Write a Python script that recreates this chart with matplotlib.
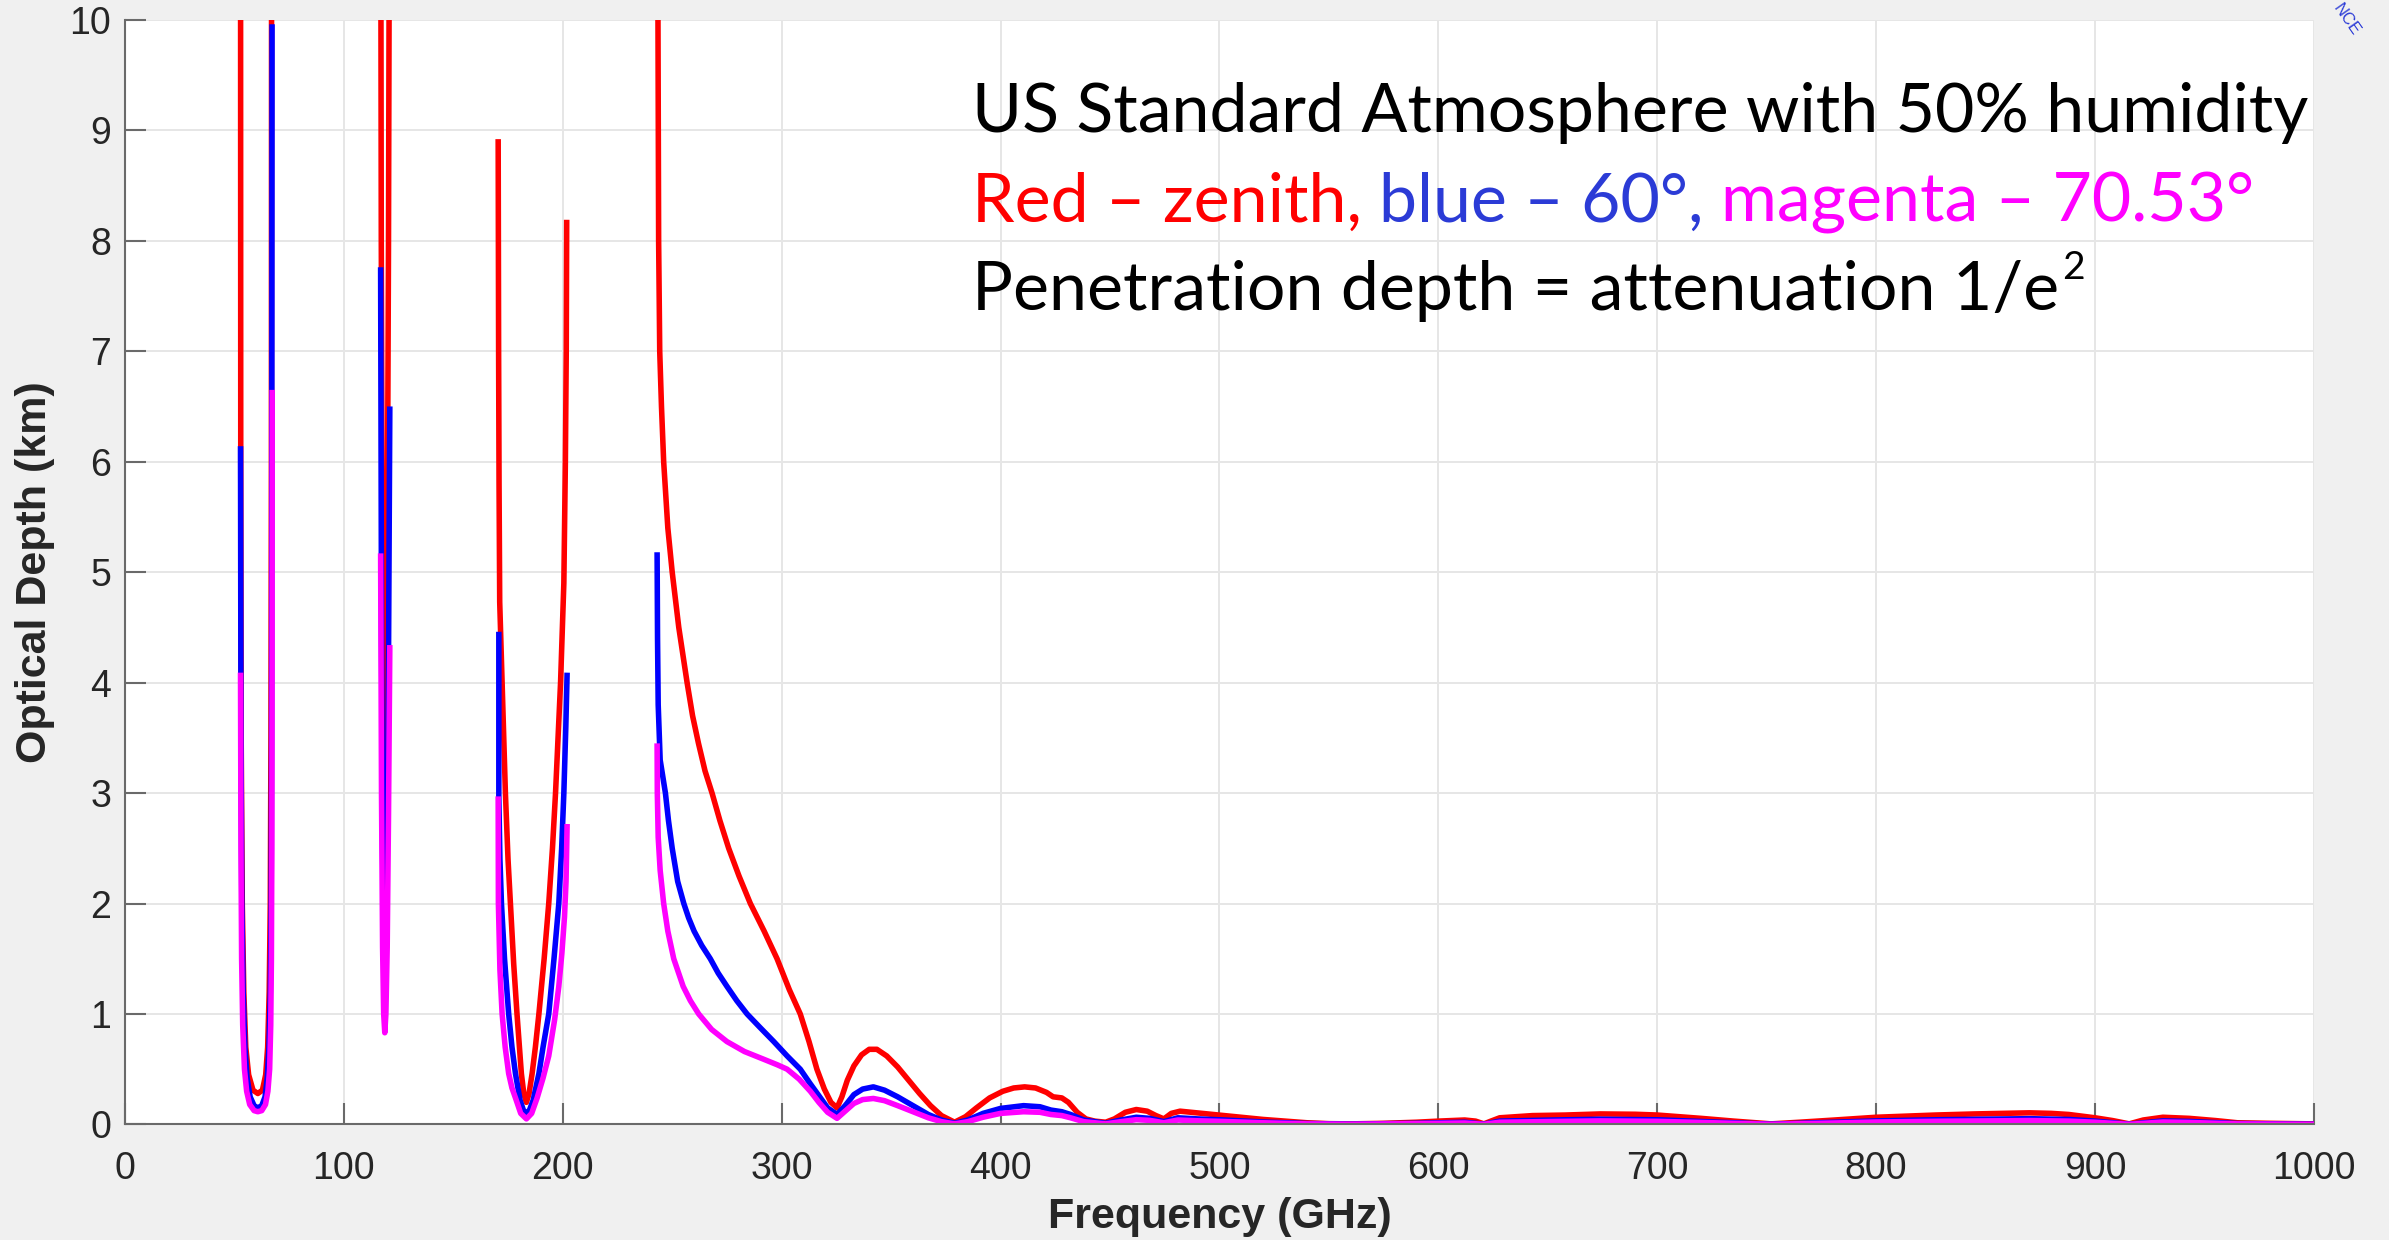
import numpy as np
import matplotlib
matplotlib.use("Agg")
import matplotlib.pyplot as plt

# (frequency GHz, depth km), one list per band and curve
red_60 = [(52.8, 12), (52.9, 6), (53.1, 3.5), (53.6, 2), (54.3, 1.2), (55.2, 0.7), (56.5, 0.45),
          (58.5, 0.31), (60.7, 0.28), (62.8, 0.31), (64.3, 0.45), (65.2, 0.7), (65.9, 1.2),
          (66.4, 2), (66.7, 3.5), (66.9, 6), (67.0, 12)]
blue_60 = [(52.8, 6.14), (53.0, 3.5), (53.4, 2), (54.0, 1.2), (54.8, 0.7), (55.8, 0.42), (57.2, 0.25),
           (59.0, 0.17), (60.7, 0.15), (62.5, 0.17), (64.0, 0.25), (65.0, 0.42), (65.8, 0.7),
           (66.4, 1.2), (66.8, 2), (67.0, 3.5), (67.1, 6), (67.2, 9.96)]
mag_60 = [(52.8, 4.09), (53.0, 2.5), (53.3, 1.5), (53.8, 0.9), (54.6, 0.5), (55.6, 0.3), (57.0, 0.18),
          (59.0, 0.125), (60.7, 0.115), (62.5, 0.125), (64.2, 0.18), (65.3, 0.3), (66.1, 0.5),
          (66.6, 0.9), (66.9, 1.5), (67.1, 2.5), (67.2, 4), (67.25, 6.65)]

red_118 = [(116.8, 12), (117.1, 8), (117.6, 5), (118.2, 3.2), (118.7, 2.48), (119.2, 3.2),
           (119.8, 5), (120.4, 8), (120.9, 12)]
blue_118 = [(116.8, 7.76), (117.2, 4.5), (117.7, 2.5), (118.2, 1.5), (118.7, 1.19), (119.2, 1.5),
            (119.8, 2.5), (120.4, 4.2), (121.0, 6.5)]
mag_118 = [(116.8, 5.17), (117.2, 3.0), (117.7, 1.6), (118.2, 1.0), (118.7, 0.83), (119.2, 1.0),
           (119.8, 1.6), (120.4, 2.8), (121.0, 4.34)]

red_183 = [(170.5, 8.92), (170.7, 7.0), (170.9, 5.8), (171.2, 4.73), (172.3, 4.0), (173.8, 3.0),
           (175.0, 2.4), (176.1, 2.0), (177.6, 1.45), (179.1, 1.0), (180.2, 0.7), (181.1, 0.46),
           (182.2, 0.28), (183.4, 0.2), (184.6, 0.28), (186.0, 0.46), (187.5, 0.7), (189.1, 1.0),
           (191.5, 1.5), (193.6, 2.0), (195.3, 2.5), (196.7, 3.0), (199.0, 4.0), (200.5, 4.9),
           (201.2, 6.0), (201.6, 7.0), (201.8, 8.19)]
blue_183 = [(170.8, 4.46), (170.8, 2.96), (171.3, 2.4), (172.0, 2.0), (173.4, 1.5), (175.3, 1.0),
            (176.8, 0.7), (178.4, 0.46), (180.5, 0.22), (182.0, 0.13), (183.4, 0.1), (184.8, 0.13),
            (186.5, 0.22), (189.1, 0.46), (191.0, 0.7), (193.6, 1.0), (196.0, 1.5), (198.2, 2.0),
            (199.5, 2.5), (200.5, 3.0), (201.4, 3.6), (202.0, 4.09)]
mag_183 = [(170.5, 2.97), (170.6, 2.0), (171.3, 1.4), (172.3, 1.0), (173.7, 0.7), (175.3, 0.46),
           (176.8, 0.33), (178.4, 0.24), (180.8, 0.1), (183.4, 0.05), (185.8, 0.1), (188.3, 0.24),
           (191.0, 0.42), (193.6, 0.62), (196.3, 0.95), (198.2, 1.25), (199.6, 1.55), (200.8, 1.88),
           (201.5, 2.2), (202.0, 2.72)]

red_tail = [(243.4, 12), (243.5, 10), (243.8, 8), (244.3, 7), (245.1, 6.5), (246.1, 6), (248.0, 5.4),
            (250.0, 5.0), (253.0, 4.5), (256.8, 4.0), (259.3, 3.7), (262.0, 3.45), (265.0, 3.2),
            (268.2, 3.0), (271.8, 2.75), (275.8, 2.5), (280.5, 2.25), (285.7, 2.0), (292.0, 1.75),
            (297.9, 1.5), (303.5, 1.22), (308.5, 1.0), (312.5, 0.75), (316.1, 0.5), (319.5, 0.32),
            (322.5, 0.2), (325.3, 0.15), (327.5, 0.25), (330.0, 0.4), (333.0, 0.53), (336.5, 0.63),
            (340.0, 0.68), (343.5, 0.68), (348.0, 0.62), (353.0, 0.52), (358.0, 0.4), (363.0, 0.28),
            (368.0, 0.17), (373.0, 0.08), (379.0, 0.02), (384.0, 0.07), (389.0, 0.15), (395.0, 0.24),
            (401.0, 0.3), (406.0, 0.33), (411.0, 0.34), (416.0, 0.33), (421.0, 0.29), (424.0, 0.25),
            (428.0, 0.24), (431.0, 0.2), (435.0, 0.11), (439.0, 0.05), (443.0, 0.03), (448.0, 0.02),
            (452.0, 0.05), (457.0, 0.11), (462.0, 0.135), (467.0, 0.12), (471.0, 0.08), (474.6, 0.05),
            (478.0, 0.1), (482.0, 0.12), (487.0, 0.11), (492.0, 0.1), (500.0, 0.085), (510.0, 0.065),
            (520.0, 0.045), (530.0, 0.03), (540.0, 0.015), (550.0, 0.007), (560.0, 0.005), (575.0, 0.01),
            (590.0, 0.02), (600.0, 0.03), (612.0, 0.04), (617.0, 0.03), (620.8, 0.005), (624.0, 0.03),
            (628.0, 0.06), (643.0, 0.08), (658.0, 0.085), (674.0, 0.095), (690.0, 0.092), (700.0, 0.085),
            (710.0, 0.07), (720.0, 0.055), (735.0, 0.03), (752.0, 0.005), (765.0, 0.02), (781.0, 0.04),
            (800.0, 0.065), (827.0, 0.085), (845.0, 0.095), (858.0, 0.1), (870.0, 0.105), (880.0, 0.1),
            (888.0, 0.09), (900.0, 0.06), (908.0, 0.035), (915.6, 0.005), (922.0, 0.04), (931.0, 0.065),
            (943.0, 0.055), (955.0, 0.035), (965.0, 0.015), (980.0, 0.01), (1000.0, 0.005)]
blue_tail = [(243.1, 5.18), (243.3, 4.4), (243.6, 3.8), (244.5, 3.3), (246.9, 3.0), (248.3, 2.75),
             (250.0, 2.5), (252.5, 2.2), (255.3, 2.0), (257.5, 1.87), (260.0, 1.75), (263.5, 1.62),
             (267.4, 1.5), (271.0, 1.37), (275.0, 1.25), (279.5, 1.12), (284.2, 1.0), (290.0, 0.88),
             (296.4, 0.75), (302.5, 0.62), (308.5, 0.5), (313.0, 0.37), (317.0, 0.26), (321.0, 0.15),
             (325.3, 0.09), (329.0, 0.17), (333.0, 0.27), (337.0, 0.32), (341.9, 0.34), (347.0, 0.31),
             (353.0, 0.25), (360.0, 0.17), (367.0, 0.09), (373.0, 0.04), (379.0, 0.01), (385.0, 0.04),
             (392.0, 0.1), (400.0, 0.145), (410.5, 0.17), (418.0, 0.16), (423.0, 0.13), (428.0, 0.115),
             (432.0, 0.09), (438.0, 0.04), (448.0, 0.01), (455.0, 0.04), (462.0, 0.065), (468.0, 0.055),
             (474.6, 0.025), (481.0, 0.06), (490.0, 0.05), (500.0, 0.042), (520.0, 0.022), (540.0, 0.008),
             (560.0, 0.003), (590.0, 0.01), (612.0, 0.02), (620.8, 0.002), (628.0, 0.03), (658.0, 0.042),
             (674.0, 0.047), (700.0, 0.042), (720.0, 0.027), (752.0, 0.002), (781.0, 0.02), (800.0, 0.032),
             (830.0, 0.043), (858.0, 0.05), (870.0, 0.052), (888.0, 0.045), (900.0, 0.03), (915.6, 0.002),
             (931.0, 0.032), (943.0, 0.027), (965.0, 0.008), (1000.0, 0.002)]
mag_tail = [(243.1, 3.45), (243.2, 3.0), (243.6, 2.6), (244.5, 2.3), (246.1, 2.0), (248.0, 1.75),
            (250.7, 1.5), (255.0, 1.25), (258.3, 1.12), (262.1, 1.0), (268.0, 0.86), (275.0, 0.75),
            (283.0, 0.66), (291.8, 0.59), (298.0, 0.54), (302.5, 0.5), (308.0, 0.41), (313.1, 0.3),
            (317.0, 0.2), (321.0, 0.11), (325.3, 0.055), (329.0, 0.12), (333.0, 0.19), (337.0, 0.225),
            (341.9, 0.235), (347.0, 0.215), (353.0, 0.17), (360.0, 0.115), (367.0, 0.06), (373.0, 0.025),
            (379.0, 0.005), (385.0, 0.025), (392.0, 0.065), (400.0, 0.1), (410.5, 0.115), (418.0, 0.11),
            (423.0, 0.09), (428.0, 0.08), (432.0, 0.06), (438.0, 0.025), (448.0, 0.005), (455.0, 0.025),
            (462.0, 0.043), (468.0, 0.037), (474.6, 0.015), (481.0, 0.04), (490.0, 0.033), (500.0, 0.028),
            (520.0, 0.015), (540.0, 0.005), (560.0, 0.002), (590.0, 0.007), (612.0, 0.013), (620.8, 0.001),
            (628.0, 0.02), (658.0, 0.028), (674.0, 0.032), (700.0, 0.028), (720.0, 0.018), (752.0, 0.001),
            (781.0, 0.013), (800.0, 0.022), (830.0, 0.029), (858.0, 0.033), (870.0, 0.035), (888.0, 0.03),
            (900.0, 0.02), (915.6, 0.001), (931.0, 0.022), (943.0, 0.018), (965.0, 0.005), (1000.0, 0.001)]

x_ticks = list(range(0, 1001, 100))
y_ticks = list(range(0, 11))

note_line1 = "US Standard Atmosphere with 50% humidity"
note_line2 = [("Red \u2013 zenith,", "#ff0000"), ("blue \u2013 60\u00b0,", "#2b3bd6"),
              ("magenta \u2013 70.53\u00b0", "#ff00ff")]
note_line3 = "Penetration depth = attenuation 1/e"
note_sup = "2"


def join_bands(*bands):
    f, d = [], []
    for b in bands:
        f += [p[0] for p in b] + [np.nan]
        d += [p[1] for p in b] + [np.nan]
    return np.array(f), np.array(d)


plt.rcParams["font.family"] = ["Liberation Sans", "DejaVu Sans"]

fig = plt.figure(figsize=(23.89, 12.40), dpi=100, facecolor="#f0f0f0")
ax = fig.add_axes([0.0523, 0.0932, 0.9163, 0.8908])
ax.set_facecolor("white")

curves = [
    (join_bands(red_60, red_118, red_183, red_tail), "#ff0000"),
    (join_bands(blue_60, blue_118, blue_183, blue_tail), "#0000ff"),
    (join_bands(mag_60, mag_118, mag_183, mag_tail), "#ff00ff"),
]
for (f, d), c in curves:
    ax.plot(f, d, color=c, lw=4, solid_capstyle="butt", solid_joinstyle="round")

ax.set_xlim(0, 1000)
ax.set_ylim(0, 10)
ax.set_xticks(x_ticks)
ax.set_yticks(y_ticks)
ax.grid(True, color="#e6e6e6", lw=1.4)
ax.set_axisbelow(True)
for s in ["top", "right"]:
    ax.spines[s].set_visible(False)
for s in ["left", "bottom"]:
    ax.spines[s].set_color("#6a6a6a")
    ax.spines[s].set_linewidth(1.5)
ax.tick_params(direction="in", length=15, width=1.5, color="#6a6a6a",
               labelsize=27, labelcolor="#262626")
ax.tick_params(axis="x", pad=19)
ax.tick_params(axis="y", pad=10)

ax.set_xlabel("Frequency (GHz)", fontsize=31, fontweight="bold", color="#262626", labelpad=7)
ax.set_ylabel("Optical Depth (km)", fontsize=31, fontweight="bold", color="#262626", labelpad=10)

# annotation block, top right
tf = dict(family=["Lato", "DejaVu Sans"], fontsize=49)
ax.text(387, 8.985, note_line1, color="black", va="baseline", ha="left", **tf)
prev = ax.text(387, 8.17, note_line2[0][0], color=note_line2[0][1], va="baseline", ha="left", **tf)
for s, c in note_line2[1:]:
    prev = ax.annotate(s, xy=(1, 0), xycoords=prev, xytext=(12.5, 0), textcoords="offset points",
                       va="bottom", ha="left", color=c, **tf)
last = ax.text(387, 7.37, note_line3, color="black", va="baseline", ha="left", **tf)
ax.annotate(note_sup, xy=(1, 0), xycoords=last, xytext=(2, 26), textcoords="offset points",
            va="bottom", ha="left", color="black", family=["Lato", "DejaVu Sans"], fontsize=28)

# cut-off logo corner
fig.text(0.982, 0.984, "NCE", color="#2b3bd6", fontsize=12, rotation=-55, ha="center", va="center")

fig.savefig("out.png", dpi=100, facecolor=fig.get_facecolor())
